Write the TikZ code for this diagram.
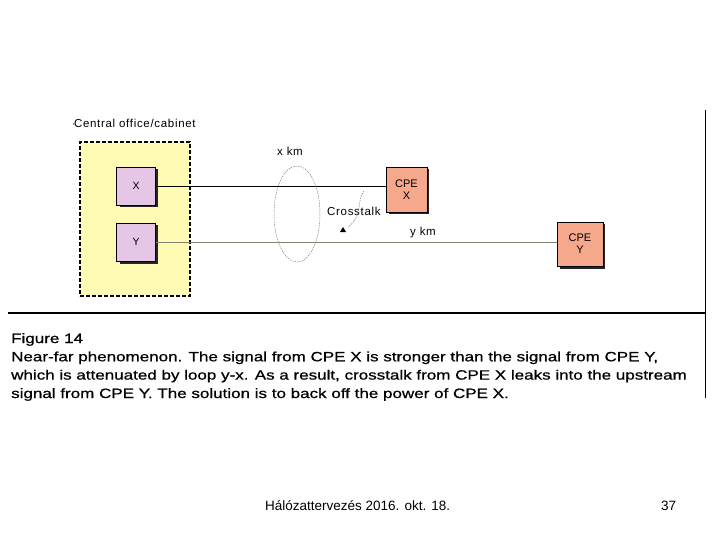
\documentclass[tikz,border=0pt]{standalone}
\usepackage{fontspec}
\setmainfont{Liberation Sans}
\newfontfamily\capfont[FakeStretch=1.26,FakeBold=0.8]{Liberation Sans}
\newfontfamily\lblfont[LetterSpace=6]{Liberation Sans}
\usetikzlibrary{arrows.meta,shapes.geometric}
\definecolor{cabyellow}{RGB}{255,250,180}
\definecolor{xyfill}{RGB}{230,198,230}
\definecolor{cpefill}{RGB}{245,168,140}
\definecolor{ygray}{RGB}{130,130,110}
\begin{document}
\begin{tikzpicture}[x=1pt,y=-1pt,
  lbl/.style={font=\lblfont\fontsize{11.5}{12}\selectfont, inner sep=0pt},
  unitbox/.style={draw=black, line width=0.6pt, fill=xyfill, minimum width=39pt, minimum height=38pt, inner sep=0pt, font=\fontsize{10.5}{11}\selectfont},
  cpebox/.style={draw=black, line width=0.6pt, fill=cpefill, inner sep=0pt, align=center, font=\fontsize{11}{12}\selectfont},
  capline/.style={anchor=base west, inner sep=0pt, font=\capfont\fontsize{13.5}{17}\selectfont}
]
\useasboundingbox (0,0) rectangle (720,540);
% frame lines
\draw[line width=0.9pt] (705,110) -- (705,398);
\draw[line width=1.1pt] (8,313) -- (705,313);
% cabinet
\node[lbl, anchor=west] (cablbl) at (72,123) {$\cdot$\kern-1.5pt Central office/cabinet};
\node[draw=black, dashed, line width=1.6pt, dash pattern=on 4pt off 2pt, fill=cabyellow, minimum width=110pt, minimum height=154pt, inner sep=0pt] (cab) at (135,219) {};
% X and Y boxes with shadow
\fill[black!85] (119.5,169.5) rectangle (158,207.5);
\node[unitbox] (X) at (136,186) {X};
\fill[black!85] (119.5,225.5) rectangle (158,264);
\node[unitbox] (Y) at (136,242) {Y};
% CPE boxes
\fill[black!85] (388.5,169.5) rectangle (429,214.5);
\node[cpebox, minimum width=41pt, minimum height=45pt] (cpex) at (406.5,189.5) {CPE\\X};
\fill[black!85] (559.5,224.5) rectangle (605,268.5);
\node[cpebox, minimum width=46pt, minimum height=44pt] (cpey) at (580,244) {CPE\\Y};
% lines
\draw[line width=0.7pt] (X.east) -- (cpex.west |- X.east);
\draw[line width=0.9pt, ygray] (Y.east) -- (cpey.west |- Y.east);
% ellipse
\node[draw=gray, dashed, dash pattern=on 1.5pt off 1pt, line width=0.5pt, ellipse, minimum width=46pt, minimum height=96pt, inner sep=0pt] (loop) at (297,214) {};
% labels
\node[lbl] (xkm) at (290,151) {x km};
\node[lbl, anchor=west] (ct) at (327,211) {Crosstalk};
\node[lbl] (ykm) at (423,233) {y km};
\coordinate (cts) at (364,191);
\coordinate (cte) at (348,227);
\draw[gray, dashed, dash pattern=on 1.5pt off 1pt, line width=0.5pt] (cts) .. controls (356,200) and (364,215) .. (cte);
\fill[black] (343,227) -- (346,232) -- (340,232) -- cycle;
% caption
\node[capline] (c0) at (11,343) {Figure 14};
\node[capline] (c1) at (11,361.3) {Near-far phenomenon. The signal from CPE X is stronger than the signal from CPE Y,};
\node[capline] (c2) at (11,379.6) {which is attenuated by loop y-x. As a result, crosstalk from CPE X leaks into the upstream};
\node[capline] (c3) at (11,398) {signal from CPE Y. The solution is to back off the power of CPE X.};
% footer
\node[anchor=base west, inner sep=0pt, font=\fontsize{13.5}{15}\selectfont] (foot) at (265,510) {Hálózattervezés 2016. okt. 18.};
\node[anchor=base west, inner sep=0pt, font=\fontsize{13.5}{15}\selectfont] (page) at (661,510) {37};
\end{tikzpicture}
\end{document}
